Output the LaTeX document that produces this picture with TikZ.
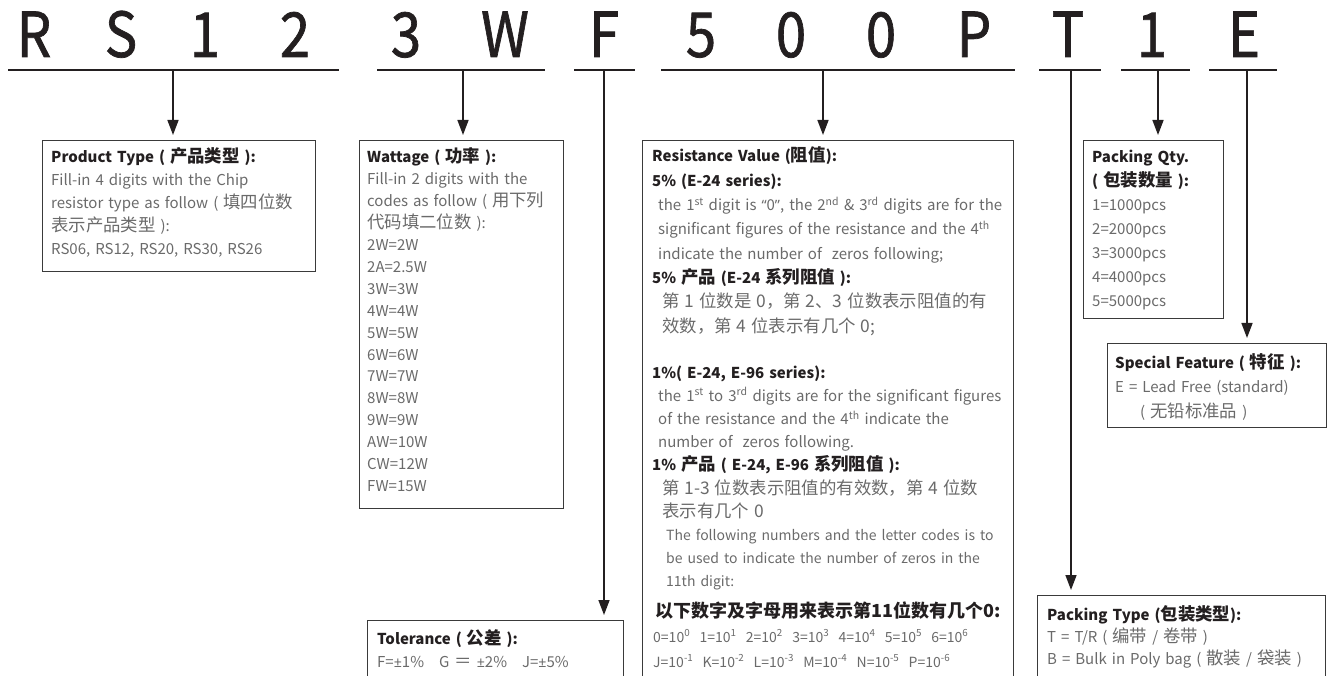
\documentclass[tikz,border=0pt]{standalone}
\usepackage{fontspec}
\usepackage{graphicx}
\setmainfont{Noto Sans CJK SC}
\newfontfamily\zhf{Noto Sans CJK SC}[Scale=1.16]
\newfontfamily\latf{Noto Sans}[Scale=0.95]
\newfontfamily\codef{Noto Sans CJK SC}[FakeBold=1.2]
\usetikzlibrary{arrows.meta}
\definecolor{ink}{HTML}{231F20}
\definecolor{bodyc}{HTML}{6A6A6A}
\definecolor{framec}{HTML}{3A3A3A}
\tikzset{
  code/.style={anchor=base, inner sep=0pt, text=ink, font=\codef\fontsize{62}{62}\selectfont},
  uline/.style={draw=ink, line width=2.2pt},
  conn/.style={draw=ink, line width=1.5pt, -{Triangle[length=15pt,width=11pt]}, shorten >=5pt},
  box/.style={draw=framec, line width=1.2pt, anchor=north west, inner sep=0pt},
  txt/.style={anchor=base west, inner sep=0pt, align=left, text=bodyc, text width=#1},
  txt/.default=300pt,
}
\newcommand\hd[1]{\textcolor{ink}{\bfseries #1}}
\newcommand\fsz[2]{\fontsize{#1}{#2}\selectfont}
\newcommand\zh[1]{{\zhf #1}}
\newcommand\plm{{\latf ±}}
\newcommand\lqt{{\latf “}}
\newcommand\rqt{{\latf ”}}
\newcommand\cl[1]{\scalebox{0.88}[1]{#1}}
\begin{document}
\begin{tikzpicture}[x=1pt,y=-1pt]
\path[use as bounding box] (0,0) rectangle (1331,676);
\clip (0,0) rectangle (1331,676);
% code letters
\node[code] (cR) at (34,57) {\cl{R}};
\node[code] (cS) at (121,57) {\cl{S}};
\node[code] (c1) at (205,57) {\cl{1}};
\node[code] (c2) at (295,57) {\cl{2}};
\node[code] (c3) at (406,57) {\cl{3}};
\node[code] (cW) at (505,57) {\cl{W}};
\node[code] (cF) at (604,57) {\cl{F}};
\node[code] (c5) at (701,57) {\cl{5}};
\node[code] (c0a) at (791,57) {\cl{0}};
\node[code] (c0b) at (881,57) {\cl{0}};
\node[code] (cP) at (974,57) {\cl{P}};
\node[code] (cT) at (1068,57) {\cl{T}};
\node[code] (c1b) at (1152,57) {\cl{1}};
\node[code] (cE) at (1244,57) {\cl{E}};
% underline coordinates
\coordinate (u1a) at (8,70);   \coordinate (u1b) at (339,70);
\coordinate (u2a) at (377,70); \coordinate (u2b) at (545,70);
\coordinate (u3a) at (574,70); \coordinate (u3b) at (635,70);
\coordinate (u4a) at (661,70); \coordinate (u4b) at (1015,70);
\coordinate (u5a) at (1039,70);\coordinate (u5b) at (1101,70);
\coordinate (u6a) at (1121,70);\coordinate (u6b) at (1190,70);
\coordinate (u7a) at (1209,70);\coordinate (u7b) at (1277,70);
\draw[uline] (u1a) -- (u1b);
\draw[uline] (u2a) -- (u2b);
\draw[uline] (u3a) -- (u3b);
\draw[uline] (u4a) -- (u4b);
\draw[uline] (u5a) -- (u5b);
\draw[uline] (u6a) -- (u6b);
\draw[uline] (u7a) -- (u7b);
% connector origins
\coordinate (oProd) at (173,70);
\coordinate (oWatt) at (463,70);
\coordinate (oTol) at (604,70);
\coordinate (oRes) at (823,70);
\coordinate (oPT) at (1071,70);
\coordinate (oPQ) at (1158,70);
\coordinate (oSF) at (1247,70);
% boxes
\node[box, minimum width=273pt, minimum height=131pt] (prod) at (42,140) {};
\node[box, minimum width=204pt, minimum height=368pt] (watt) at (359,140) {};
\node[box, minimum width=371pt, minimum height=560pt] (res) at (642,140) {};
\node[box, minimum width=140pt, minimum height=178pt] (pq) at (1083,140) {};
\node[box, minimum width=219pt, minimum height=84pt] (sf) at (1107,343) {};
\node[box, minimum width=256pt, minimum height=100pt] (tol) at (367,620) {};
\node[box, minimum width=288pt, minimum height=120pt] (pt) at (1037,595) {};
% connectors
\draw[conn] (oProd) -- (oProd |- prod.north);
\draw[conn] (oWatt) -- (oWatt |- watt.north);
\draw[conn] (oTol) -- (oTol |- tol.north);
\draw[conn] (oRes) -- (oRes |- res.north);
\draw[conn] (oPT) -- (oPT |- pt.north);
\draw[conn] (oPQ) -- (oPQ |- pq.north);
\draw[conn] (oSF) -- (oSF |- sf.north);
% texts
\node[txt=265pt, font=\fsz{15}{23}] (tProd) at (51,163) {\hd{Product Type ( \zh{产品类型} ):}\\
Fill-in 4 digits with the Chip\\
resistor type as follow ( \zh{填四位数}\\
\zh{表示产品类型} ):\\
RS06, RS12, RS20, RS30, RS26};
\node[txt=200pt, font=\fsz{15}{21.9}] (tWatt) at (367,163) {\hd{Wattage ( \zh{功率} ):}\\
Fill-in 2 digits with the\\
codes as follow ( \zh{用下列}\\
\zh{代码填二位数} ):\\
2W=2W\\ 2A=2.5W\\ 3W=3W\\ 4W=4W\\ 5W=5W\\ 6W=6W\\ 7W=7W\\ 8W=8W\\ 9W=9W\\ AW=10W\\ CW=12W\\ FW=15W};
\node[txt=400pt, font=\fsz{15}{24.3}] (tResA) at (652,162) {\hd{Resistance Value (\zh{阻值}):}\\
\hd{5\% (E-24 series):}\\
\hspace*{6pt}the 1\textsuperscript{st} digit is \lqt0\rqt, the 2\textsuperscript{nd} \& 3\textsuperscript{rd} digits are for the\\
\hspace*{6pt}significant figures of the resistance and the 4\textsuperscript{th}\\
\hspace*{6pt}indicate the number of\ \ zeros following;\\
\hd{5\% \zh{产品} (E-24 \zh{系列阻值} ):}\\
\hspace*{10pt}\zh{第 1 位数是 0，第 2、3 位数表示阻值的有}\\
\hspace*{10pt}\zh{效数，第 4 位表示有几个 0;}};
\node[txt=400pt, font=\fsz{15}{23.2}] (tResB) at (652,378) {\hd{1\%( E-24, E-96 series):}\\
\hspace*{6pt}the 1\textsuperscript{st} to 3\textsuperscript{rd} digits are for the significant figures\\
\hspace*{6pt}of the resistance and the 4\textsuperscript{th} indicate the\\
\hspace*{6pt}number of\ \ zeros following.\\
\hd{1\% \zh{产品} ( E-24, E-96 \zh{系列阻值} ):}\\
\hspace*{10pt}\zh{第 1-3 位数表示阻值的有效数，第 4 位数}\\
\hspace*{10pt}\zh{表示有几个 0}\\
{\fsz{14}{23.2}\hspace*{14pt}The following numbers and the letter codes is to}\\
{\fsz{14}{23.2}\hspace*{14pt}be used to indicate the number of zeros in the}\\
{\fsz{14}{23.2}\hspace*{14pt}11th digit:}};
\node[txt=400pt, font=\fsz{18}{25}] (tResC) at (655,617) {\hd{以下数字及字母用来表示第11位数有几个0:}};
\node[txt=400pt, font=\fsz{14}{25}] (tResD) at (653,642) {0=10\textsuperscript{0}\ \ 1=10\textsuperscript{1}\ \ 2=10\textsuperscript{2}\ \ 3=10\textsuperscript{3}\ \ 4=10\textsuperscript{4}\ \ 5=10\textsuperscript{5}\ \ 6=10\textsuperscript{6}\\
J=10\textsuperscript{-1}\ \ K=10\textsuperscript{-2}\ \ L=10\textsuperscript{-3}\ \ M=10\textsuperscript{-4}\ \ N=10\textsuperscript{-5}\ \ P=10\textsuperscript{-6}};
\node[txt=135pt, font=\fsz{15}{24}] (tPQ) at (1092,163) {\hd{Packing Qty.}\\
\hd{( \zh{包装数量} ):}\\
1=1000pcs\\ 2=2000pcs\\ 3=3000pcs\\ 4=4000pcs\\ 5=5000pcs};
\node[txt=215pt, font=\fsz{15}{24.5}] (tSF) at (1115,368) {\hd{Special Feature ( \zh{特征} ):}\\
E = Lead Free (standard)\\
\hspace*{25pt}( \zh{无铅标准品} )};
\node[txt=250pt, font=\fsz{15}{23}] (tTol) at (377,644) {\hd{Tolerance ( \zh{公差} ):}\\
F=\plm1\%\ \ \ G \zh{＝} \plm2\%\ \ \ J=\plm5\%};
\node[txt=285pt, font=\fsz{15}{22}] (tPT) at (1047,620) {\hd{Packing Type (\zh{包装类型}):}\\
T = T/R ( \zh{编带} / \zh{卷带} )\\
B = Bulk in Poly bag ( \zh{散装} / \zh{袋装} )};
\end{tikzpicture}
\end{document}
